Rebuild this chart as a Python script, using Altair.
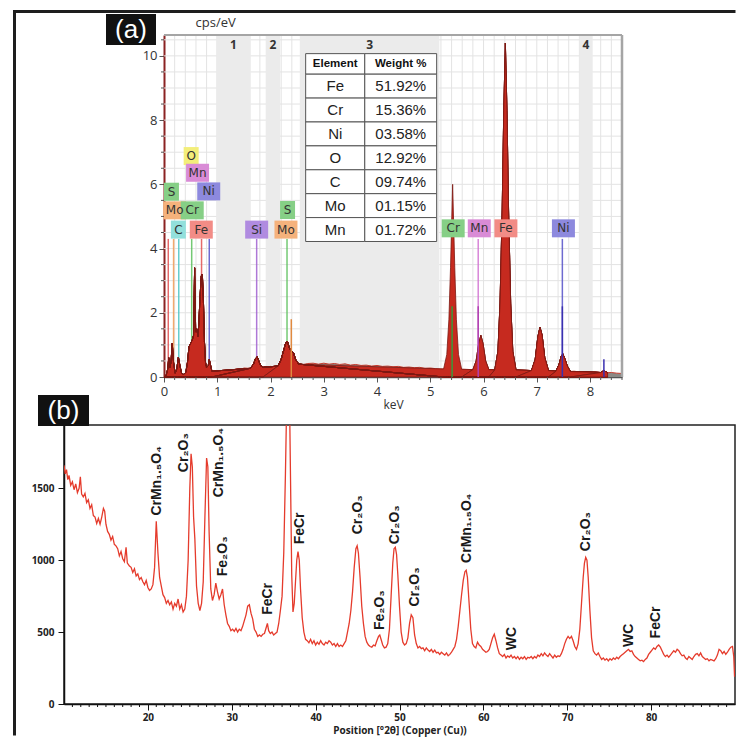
import altair as alt
import numpy as np
import pandas as pd

# ===================== (a) EDS spectrum =====================
low_energy = [(0.00, 0.00), (0.04, 0.05), (0.07, 0.25), (0.09, 0.60), (0.11, 0.30), (0.13, 0.45),
              (0.155, 1.05), (0.18, 0.45), (0.21, 0.12), (0.24, 0.25), (0.27, 0.62), (0.30, 0.35),
              (0.33, 0.12), (0.37, 0.08), (0.41, 0.15), (0.44, 0.45), (0.47, 0.95), (0.50, 1.05),
              (0.53, 1.15), (0.555, 1.30), (0.575, 3.40), (0.595, 1.40), (0.615, 1.50), (0.64, 1.25),
              (0.66, 1.90), (0.68, 2.60), (0.70, 3.15), (0.72, 3.20), (0.74, 2.40), (0.76, 1.10),
              (0.78, 0.45), (0.80, 0.30), (0.83, 0.35), (0.85, 0.55), (0.87, 0.40), (0.90, 0.18)]

continuum = [(0.90, 0.18), (1.00, 0.15), (1.05, 0.20), (1.10, 0.17), (1.20, 0.22), (1.25, 0.19),
             (1.30, 0.23), (1.40, 0.26), (1.45, 0.23), (1.50, 0.28), (1.60, 0.27), (1.70, 0.30),
             (1.80, 0.31), (1.90, 0.29), (2.00, 0.33), (2.10, 0.31), (2.20, 0.36), (2.30, 0.37),
             (2.40, 0.38), (2.50, 0.40), (2.60, 0.38), (2.70, 0.42), (2.80, 0.43), (2.90, 0.40),
             (3.00, 0.43), (3.10, 0.40), (3.20, 0.42), (3.30, 0.39), (3.40, 0.41), (3.50, 0.37),
             (3.60, 0.39), (3.70, 0.36), (3.80, 0.37), (3.90, 0.34), (4.00, 0.36), (4.10, 0.33),
             (4.20, 0.34), (4.30, 0.32), (4.40, 0.33), (4.50, 0.30), (4.60, 0.31), (4.70, 0.29),
             (4.80, 0.30), (4.90, 0.27), (5.00, 0.28), (5.10, 0.26), (5.20, 0.25), (5.40, 0.25),
             (5.60, 0.24), (5.80, 0.23), (6.00, 0.24), (6.20, 0.22), (6.60, 0.22), (6.80, 0.21),
             (6.90, 0.20), (7.20, 0.20), (7.30, 0.19), (7.40, 0.18), (7.60, 0.17), (7.70, 0.18),
             (7.80, 0.16), (7.90, 0.17), (8.00, 0.15), (8.10, 0.16), (8.20, 0.14), (8.30, 0.13),
             (8.40, 0.14), (8.50, 0.12), (8.60, 0.11)]

peak_si = [(1.62, 0.27), (1.68, 0.40), (1.72, 0.58), (1.75, 0.63), (1.78, 0.50), (1.82, 0.34), (1.86, 0.30)]
peak_s_mo = [(2.14, 0.34), (2.20, 0.55), (2.25, 0.85), (2.29, 1.08), (2.32, 1.10), (2.35, 0.92),
             (2.39, 0.80), (2.43, 0.76), (2.47, 0.55), (2.53, 0.40)]
peak_cr_ka = [(5.25, 0.25), (5.31, 0.70), (5.35, 1.80), (5.38, 3.40), (5.42, 6.00), (5.46, 3.40),
              (5.49, 1.80), (5.53, 0.70), (5.59, 0.24)]
peak_cr_kb = [(5.80, 0.23), (5.86, 0.50), (5.91, 1.05), (5.95, 1.30), (5.99, 1.05), (6.04, 0.50), (6.10, 0.23)]
peak_fe_ka = [(6.21, 0.22), (6.27, 0.80), (6.31, 2.30), (6.35, 5.20), (6.38, 8.30), (6.41, 10.40),
              (6.44, 8.30), (6.47, 5.20), (6.51, 2.30), (6.55, 0.80), (6.61, 0.22)]
peak_fe_kb = [(6.90, 0.20), (6.97, 0.55), (7.02, 1.25), (7.06, 1.55), (7.10, 1.30), (7.15, 0.60), (7.22, 0.20)]
peak_ni_ka = [(7.36, 0.18), (7.42, 0.40), (7.46, 0.65), (7.49, 0.72), (7.53, 0.55), (7.57, 0.35), (7.63, 0.17)]
peak_ni_kb = [(8.20, 0.14), (8.26, 0.20), (8.33, 0.13)]

label_text = ["O", "Mn", "S", "Ni", "Mo", "Cr", "C", "Fe", "Si", "S", "Mo", "Cr", "Mn", "Fe", "Ni"]
label_kev = [0.51, 0.63, 0.14, 0.84, 0.20, 0.53, 0.27, 0.70, 1.74, 2.32, 2.29, 5.43, 5.92, 6.42, 7.50]
label_cps = [6.88, 6.36, 5.77, 5.78, 5.19, 5.19, 4.59, 4.59, 4.59, 5.20, 4.59, 4.63, 4.63, 4.63, 4.63]

marker_elem = ["Fe", "Mo", "C", "Cr", "Fe", "Ni", "Si", "S", "Cr", "Mn", "Fe", "Ni"]
marker_kev = [0.08, 0.18, 0.277, 0.52, 0.705, 0.85, 1.74, 2.31, 5.41, 5.90, 6.40, 7.48]
marker_top = [4.3, 4.3, 4.3, 4.3, 4.3, 4.3, 4.3, 4.3, 4.3, 4.3, 4.3, 4.3]

marker2_elem = ["Cr", "Mn", "Ni", "Ni", "Mo"]
marker2_kev = [5.41, 5.90, 7.48, 8.26, 2.39]
marker2_top = [2.2, 2.2, 2.2, 0.55, 1.8]

roi_name = ["1", "2", "3", "4"]
roi_start = [0.98, 1.91, 2.55, 7.80]
roi_end = [1.63, 2.18, 5.17, 8.05]

table_element = ["Fe", "Cr", "Ni", "O", "C", "Mo", "Mn"]
table_weight = ["51.92%", "15.36%", "03.58%", "12.92%", "09.74%", "01.15%", "01.72%"]

# ===================== (b) XRD pattern =====================
xrd_pattern = [
    (10.0, 1660), (10.15, 1600), (10.3, 1630), (10.45, 1560), (10.6, 1590), (10.8, 1520), (11.0, 1545), (11.2, 1490), (11.4, 1530), (11.6, 1470),
    (11.8, 1500), (11.95, 1580), (12.1, 1460), (12.3, 1440), (12.5, 1465), (12.7, 1400), (12.9, 1420), (13.1, 1360), (13.3, 1385), (13.5, 1310),
    (13.7, 1300), (13.9, 1255), (14.1, 1290), (14.3, 1250), (14.5, 1300), (14.7, 1360), (14.85, 1340), (15.0, 1250), (15.2, 1200), (15.4, 1180),
    (15.6, 1140), (15.8, 1165), (16.0, 1110), (16.2, 1100), (16.4, 1080), (16.6, 1030), (16.8, 1060), (17.0, 1010), (17.2, 990), (17.4, 1090),
    (17.55, 980), (17.8, 960), (18.0, 950), (18.2, 915), (18.4, 940), (18.6, 890), (18.8, 905), (19.0, 865), (19.2, 880), (19.4, 850),
    (19.6, 830), (19.8, 860), (20.0, 810), (20.2, 790), (20.4, 800), (20.6, 830), (20.8, 950), (21.0, 1270), (21.2, 1050), (21.4, 880),
    (21.6, 820), (21.8, 760), (22.0, 740), (22.2, 700), (22.4, 720), (22.6, 690), (22.8, 710), (23.0, 660), (23.2, 700), (23.4, 680),
    (23.6, 730), (23.8, 660), (24.0, 690), (24.2, 640), (24.4, 660), (24.6, 750), (24.8, 1000), (25.0, 1500), (25.15, 1740), (25.3, 1650),
    (25.45, 1300), (25.6, 1150), (25.8, 820), (26.0, 700), (26.2, 650), (26.4, 700), (26.6, 850), (26.8, 1300), (27.0, 1710), (27.15, 1650),
    (27.3, 1200), (27.5, 800), (27.7, 720), (27.9, 760), (28.1, 840), (28.3, 780), (28.5, 730), (28.7, 760), (28.9, 800), (29.1, 690),
    (29.3, 620), (29.5, 560), (29.7, 540), (29.9, 510), (30.1, 520), (30.3, 505), (30.5, 525), (30.7, 500), (30.9, 520), (31.1, 510),
    (31.3, 540), (31.5, 580), (31.7, 620), (31.9, 680), (32.1, 690), (32.3, 630), (32.5, 590), (32.7, 520), (32.9, 500), (33.1, 470),
    (33.3, 480), (33.5, 470), (33.7, 485), (33.9, 490), (34.1, 530), (34.25, 560), (34.4, 510), (34.6, 490), (34.8, 500), (35.0, 480),
    (35.2, 490), (35.4, 500), (35.6, 560), (35.8, 650), (36.0, 750), (36.2, 1050), (36.4, 1600), (36.55, 2100), (36.7, 2600), (36.85, 2300),
    (37.0, 1600), (37.15, 900), (37.3, 640), (37.45, 700), (37.6, 850), (37.75, 1000), (37.9, 1060), (38.05, 1000), (38.2, 800), (38.4, 600),
    (38.6, 500), (38.8, 450), (39.0, 440), (39.2, 425), (39.4, 450), (39.6, 420), (39.8, 440), (40.0, 410), (40.2, 430), (40.4, 415),
    (40.6, 440), (40.8, 420), (41.0, 410), (41.2, 430), (41.4, 420), (41.6, 440), (41.8, 430), (42.0, 410), (42.2, 420), (42.4, 400),
    (42.6, 420), (42.8, 400), (43.0, 410), (43.2, 400), (43.4, 420), (43.6, 440), (43.8, 500), (44.0, 560), (44.2, 650), (44.4, 780),
    (44.6, 950), (44.8, 1080), (44.95, 1100), (45.1, 1050), (45.3, 880), (45.5, 680), (45.7, 560), (45.9, 470), (46.1, 430), (46.3, 410),
    (46.5, 400), (46.7, 395), (46.9, 410), (47.1, 405), (47.3, 440), (47.5, 470), (47.65, 480), (47.8, 450), (48.0, 410), (48.2, 390),
    (48.4, 395), (48.6, 420), (48.8, 520), (49.0, 750), (49.2, 980), (49.35, 1080), (49.5, 1090), (49.65, 1040), (49.8, 900), (50.0, 680),
    (50.2, 500), (50.4, 430), (50.6, 410), (50.8, 420), (51.0, 460), (51.2, 560), (51.4, 620), (51.6, 600), (51.8, 480), (52.0, 420),
    (52.2, 390), (52.4, 400), (52.6, 385), (52.8, 390), (53.0, 370), (53.2, 390), (53.4, 375), (53.6, 365), (53.8, 380), (54.0, 360),
    (54.2, 375), (54.4, 355), (54.6, 360), (54.8, 345), (55.0, 360), (55.2, 350), (55.4, 340), (55.6, 355), (55.8, 335), (56.0, 345),
    (56.2, 360), (56.4, 380), (56.6, 400), (56.8, 450), (57.0, 540), (57.2, 650), (57.4, 760), (57.6, 860), (57.8, 920), (57.95, 930),
    (58.1, 880), (58.3, 700), (58.5, 520), (58.7, 420), (58.9, 400), (59.1, 390), (59.3, 430), (59.5, 410), (59.7, 400), (59.9, 380),
    (60.1, 370), (60.3, 360), (60.5, 365), (60.7, 380), (60.9, 420), (61.1, 460), (61.3, 485), (61.5, 440), (61.7, 390), (61.9, 350),
    (62.1, 340), (62.3, 330), (62.5, 345), (62.7, 320), (62.9, 335), (63.1, 325), (63.3, 340), (63.5, 320), (63.7, 330), (63.9, 315),
    (64.1, 330), (64.3, 310), (64.5, 325), (64.7, 315), (64.9, 330), (65.1, 310), (65.3, 325), (65.5, 320), (65.7, 330), (65.9, 315),
    (66.1, 330), (66.3, 320), (66.5, 340), (66.7, 330), (66.9, 350), (67.1, 335), (67.3, 355), (67.5, 340), (67.7, 330), (67.9, 350),
    (68.1, 335), (68.3, 320), (68.5, 340), (68.7, 325), (68.9, 335), (69.1, 330), (69.3, 350), (69.5, 380), (69.7, 420), (69.9, 450),
    (70.1, 470), (70.3, 455), (70.5, 470), (70.7, 440), (70.9, 400), (71.1, 380), (71.3, 420), (71.5, 520), (71.7, 700), (71.9, 880),
    (72.05, 980), (72.2, 1020), (72.35, 1000), (72.5, 880), (72.7, 650), (72.9, 460), (73.1, 370), (73.3, 350), (73.5, 340), (73.7, 355),
    (73.9, 330), (74.1, 310), (74.3, 320), (74.5, 305), (74.7, 315), (74.9, 300), (75.1, 315), (75.3, 305), (75.5, 320), (75.7, 310),
    (75.9, 325), (76.1, 315), (76.3, 330), (76.5, 340), (76.7, 350), (76.9, 360), (77.1, 370), (77.3, 380), (77.5, 365), (77.7, 370),
    (77.9, 345), (78.1, 330), (78.3, 320), (78.5, 310), (78.7, 300), (78.9, 305), (79.1, 295), (79.3, 310), (79.5, 320), (79.7, 345),
    (79.9, 360), (80.1, 375), (80.3, 390), (80.5, 380), (80.7, 400), (80.9, 410), (81.1, 395), (81.3, 370), (81.5, 345), (81.7, 330),
    (81.9, 340), (82.1, 325), (82.3, 340), (82.5, 355), (82.7, 370), (82.9, 360), (83.1, 380), (83.3, 370), (83.5, 350), (83.7, 335),
    (83.9, 340), (84.1, 320), (84.3, 310), (84.5, 330), (84.7, 320), (84.9, 310), (85.1, 330), (85.3, 345), (85.5, 350), (85.7, 335),
    (85.9, 355), (86.1, 330), (86.3, 320), (86.5, 310), (86.7, 315), (86.9, 300), (87.1, 310), (87.3, 305), (87.5, 300), (87.7, 315),
    (87.9, 340), (88.1, 380), (88.3, 370), (88.5, 350), (88.7, 365), (88.9, 345), (89.1, 360), (89.3, 380), (89.5, 395), (89.7, 400),
    (89.85, 330), (89.95, 190)]

phase_label = ["CrMn₁.₅O₄", "Cr₂O₃", "CrMn₁.₅O₄", "Fe₂O₃", "FeCr", "FeCr", "Cr₂O₃", "Fe₂O₃",
               "Cr₂O₃", "Cr₂O₃", "CrMn₁.₅O₄", "WC", "Cr₂O₃", "WC", "FeCr"]
phase_2theta = [21.1, 24.3, 28.5, 29.0, 34.3, 38.1, 45.1, 47.7, 49.5, 51.8, 58.0, 63.4, 72.2, 77.4, 80.6]
phase_counts = [1310, 1612, 1437, 888, 620, 1110, 1180, 514, 1110, 678, 981, 374, 1063, 397, 456]

# ===================== styles =====================
box_colors = {"O": "#f3ee7a", "Mn": "#d98bd6", "S": "#86cf86", "Ni": "#8d89de", "Mo": "#f5b27c",
              "Cr": "#86cf86", "C": "#92e0dc", "Fe": "#f28c86", "Si": "#b08be0"}
line_colors = {"O": "#e0d040", "Mn": "#d070d0", "S": "#5cbf5c", "Ni": "#5550c8", "Mo": "#f09a55",
               "Cr": "#5cbf5c", "C": "#4cc4c4", "Fe": "#e05050", "Si": "#a060d0"}
dark_colors = {"Cr": "#3a9a3a", "Mn": "#b040b0", "Ni": "#3a30b0", "Mo": "#e08a40"}

W1, H1 = 558, 342          # top panel (plot occupies x 100..558)
X0 = 100
W2, H2 = 671, 279          # bottom panel

one = pd.DataFrame({"z": [0]})

xs_a = alt.Scale(domain=[0, 8.6], range=[X0, W1], nice=False, zero=False)
ys_a = alt.Scale(domain=[0, 10.65], nice=False, zero=False)
axis_xa = alt.Axis(values=list(range(9)), tickSize=5, tickColor="#555", domainColor="#555",
                   domainWidth=1.5, labelFontSize=13, labelFont="Open Sans", labelColor="#333",
                   labelPadding=3, labelFlush=False, grid=False, title="keV", titleFontSize=12,
                   titleFont="Open Sans", titleFontWeight="normal", titleColor="#333", titlePadding=1)
axis_ya = alt.Axis(values=[0, 2, 4, 6, 8, 10], offset=-X0, tickSize=5, tickColor="#555",
                   domainColor="#8b2323", domainWidth=2, labelFontSize=13, labelFont="Open Sans",
                   labelColor="#333", labelPadding=2, labelFlush=False, grid=False,
                   title="cps/eV", titleAngle=0, titleX=31, titleY=-6, titleAlign="left",
                   titleBaseline="bottom", titleFontSize=13, titleFont="Open Sans",
                   titleFontWeight="normal", titleColor="#333")
XA = lambda f: alt.X(f, type="quantitative", scale=xs_a, axis=axis_xa)
YA = lambda f: alt.Y(f, type="quantitative", scale=ys_a, axis=axis_ya)


def pix_rule(x, x2, y, y2, color, width, cap="butt"):
    return alt.Chart(one).mark_rule(color=color, strokeWidth=width, strokeCap=cap).encode(
        x=alt.value(x), x2=alt.value(x2), y=alt.value(y), y2=alt.value(y2))


def pts(seq, name):
    return pd.DataFrame({"kev": [p[0] for p in seq], "cps": [p[1] for p in seq], "g": name})


# ---- grid
df_gx = pd.DataFrame({"k": np.round(np.arange(0.2, 8.61, 0.2), 2)})
df_gy = pd.DataFrame({"c": np.round(np.arange(0.5, 10.51, 0.5), 2)})
grid_v = alt.Chart(df_gx).mark_rule(color="#e3e3e3", strokeWidth=1).encode(x=XA("k"))
grid_h = alt.Chart(df_gy).mark_rule(color="#e3e3e3", strokeWidth=1).encode(
    y=YA("c"), x=alt.value(X0), x2=alt.value(W1))

# ---- ROI bands
df_roi = pd.DataFrame({"b0": roi_start, "b1": roi_end, "lab": roi_name})
df_roi["mid"] = (df_roi["b0"] + df_roi["b1"]) / 2
bands = alt.Chart(df_roi).mark_rect(color="#ebebeb").encode(
    x=XA("b0"), x2="b1", y=alt.value(0), y2=alt.value(H1))
band_txt = alt.Chart(df_roi).mark_text(fontSize=12, font="Open Sans", fontWeight="bold", color="#333").encode(
    x=XA("mid"), y=alt.value(10), text="lab:N")

# ---- marker lines
df_mk = pd.DataFrame({"kev": marker_kev, "top": marker_top, "el": marker_elem})
df_mk["col"] = df_mk["el"].map(line_colors)
df_mk["zero"] = 0.0
markers = alt.Chart(df_mk).mark_rule(strokeWidth=1.5, opacity=0.85).encode(
    x=XA("kev"), y=YA("zero"), y2="top", color=alt.Color("col:N", scale=None))
df_mk2 = pd.DataFrame({"kev": marker2_kev, "top": marker2_top, "el": marker2_elem})
df_mk2["col"] = df_mk2["el"].map(dark_colors)
df_mk2["zero"] = 0.0
markers2 = alt.Chart(df_mk2).mark_rule(strokeWidth=1.5).encode(
    x=XA("kev"), y=YA("zero"), y2="top", color=alt.Color("col:N", scale=None))

# ---- spectrum
df_cont = pts(continuum, "cont")
cont_area = alt.Chart(df_cont).mark_area(color="#8c8985").encode(x=XA("kev"), y=YA("cps"))
cont_line = alt.Chart(df_cont).mark_line(color="#c83a2c", strokeWidth=1).encode(x=XA("kev"), y=YA("cps"))

df_peaks = pd.concat([pts(low_energy, "low"), pts(peak_si, "si"), pts(peak_s_mo, "smo"),
                      pts(peak_cr_ka, "crka"), pts(peak_cr_kb, "crkb"), pts(peak_fe_ka, "feka"),
                      pts(peak_fe_kb, "fekb"), pts(peak_ni_ka, "nika"), pts(peak_ni_kb, "nikb")],
                     ignore_index=True)
peaks = alt.Chart(df_peaks).mark_area(fill="#c62a1f", stroke="#7c1812", strokeWidth=0.8).encode(
    x=XA("kev"), y=YA("cps"), detail="g:N")

# ---- table
T_X0, T_XM, T_X1 = 2.66, 3.77, 5.12
T_Y0, T_YH, T_Y1 = 10.07, 9.43, 4.22
rh = (T_YH - T_Y1) / len(table_element)
cells, texts = [], []
cells += [dict(x0=T_X0, x1=T_XM, y0=T_YH, y1=T_Y0), dict(x0=T_XM, x1=T_X1, y0=T_YH, y1=T_Y0)]
hdr = pd.DataFrame({"x": [(T_X0 + T_XM) / 2, (T_XM + T_X1) / 2], "y": [(T_Y0 + T_YH) / 2] * 2,
                    "t": ["Element", "Weight %"]})
for i, (el, wt) in enumerate(zip(table_element, table_weight)):
    top_ = T_YH - i * rh
    bot_ = top_ - rh
    cells += [dict(x0=T_X0, x1=T_XM, y0=bot_, y1=top_), dict(x0=T_XM, x1=T_X1, y0=bot_, y1=top_)]
    texts += [dict(x=(T_X0 + T_XM) / 2, y=(top_ + bot_) / 2, t=el),
              dict(x=(T_XM + T_X1) / 2, y=(top_ + bot_) / 2, t=wt)]
df_cells = pd.DataFrame(cells)
df_ttext = pd.DataFrame(texts)
tbl_cells = alt.Chart(df_cells).mark_rect(fill="white", stroke="#555", strokeWidth=1).encode(
    x=XA("x0"), x2="x1", y=YA("y0"), y2="y1")
tbl_hdr = alt.Chart(hdr).mark_text(font="Liberation Sans", fontWeight="bold", fontSize=11.5, color="#111").encode(
    x=XA("x"), y=YA("y"), text="t:N")
tbl_body = alt.Chart(df_ttext).mark_text(font="Liberation Sans", fontSize=15, color="#222").encode(
    x=XA("x"), y=YA("y"), text="t:N")

# ---- element label boxes
df_lab = pd.DataFrame({"t": label_text, "kev": label_kev, "cps": label_cps})
df_lab["col"] = df_lab["t"].map(box_colors)
df_lab["n"] = df_lab["t"].str.len()
box1 = alt.Chart(df_lab).transform_filter("datum.n == 1").mark_rect(width=15, height=18).encode(
    x=XA("kev"), y=YA("cps"), color=alt.Color("col:N", scale=None))
box2 = alt.Chart(df_lab).transform_filter("datum.n == 2").mark_rect(width=23, height=18).encode(
    x=XA("kev"), y=YA("cps"), color=alt.Color("col:N", scale=None))
box_txt = alt.Chart(df_lab).mark_text(font="DejaVu Sans", fontSize=12, color="#333").encode(
    x=XA("kev"), y=YA("cps"), text="t:N")

# ---- minor ticks
df_mx = pd.DataFrame({"k": [v for v in np.round(np.arange(0.2, 8.61, 0.2), 2) if abs(v - round(v)) > 1e-6]})
minor_x = alt.Chart(df_mx).mark_rule(color="#555", strokeWidth=1).encode(
    x=XA("k"), y=alt.value(H1), y2=alt.value(H1 + 3))
df_my = pd.DataFrame({"c": [v for v in np.arange(0.5, 10.51, 0.5) if v % 2 != 0]})
minor_y = alt.Chart(df_my).mark_rule(color="#555", strokeWidth=1).encode(
    y=YA("c"), x=alt.value(X0 - 3), x2=alt.value(X0))

# ---- borders / decorations (pixel positions)
border_top = pix_rule(X0, W1, 0, 0, "#a5a5a5", 2)
border_right = pix_rule(W1, W1, 0, H1, "#a5a5a5", 2.5)
frame_left = pix_rule(-49.5, -49.5, -23.5, 699, "#1e1e1e", 3, "square")
frame_top = pix_rule(-49.5, 670, -23.5, -23.5, "#1e1e1e", 3, "square")
a_box = alt.Chart(one).mark_rect(color="#111").encode(
    x=alt.value(42), x2=alt.value(92), y=alt.value(-21), y2=alt.value(10))
a_txt = alt.Chart(one).mark_text(text="(a)", font="Liberation Sans", fontSize=26, color="white").encode(
    x=alt.value(67), y=alt.value(-5))

top = alt.layer(
    grid_v, grid_h, bands, band_txt, markers, cont_area, cont_line, peaks, markers2,
    tbl_cells, tbl_hdr, tbl_body, box1, box2, box_txt, minor_x, minor_y,
    border_top, border_right, a_box, a_txt, frame_left, frame_top
).properties(width=W1, height=H1, view=alt.ViewBackground(stroke="transparent"))

# ===================== bottom panel =====================
xs_b = alt.Scale(domain=[10, 90], nice=False, zero=False)
ys_b = alt.Scale(domain=[0, 1940], nice=False, zero=False)
axis_xb = alt.Axis(values=[20, 30, 40, 50, 60, 70, 80], format="d", tickSize=6, tickColor="#111",
                   domainColor="#111", domainWidth=1.5, labelFont="Open Sans", labelFontWeight="bold",
                   labelFontSize=10, labelColor="#222", labelPadding=2, labelFlush=False, grid=False,
                   title="Position [°2θ] (Copper (Cu))", titleFont="Open Sans", titleFontSize=10,
                   titleFontWeight="bold", titleColor="#222", titlePadding=3)
axis_yb = alt.Axis(values=[0, 500, 1000, 1500], format="d", tickSize=6, tickColor="#111", domainColor="#111",
                   domainWidth=1.5, labelFont="Open Sans", labelFontWeight="bold", labelFontSize=10,
                   labelColor="#222", labelPadding=4, labelFlush=False, grid=False, title=None)
XB = lambda f: alt.X(f, type="quantitative", scale=xs_b, axis=axis_xb)
YB = lambda f: alt.Y(f, type="quantitative", scale=ys_b, axis=axis_yb)

df_xrd = pd.DataFrame({"t": [p[0] for p in xrd_pattern], "c": [p[1] for p in xrd_pattern]})
xrd_line = alt.Chart(df_xrd).mark_line(color="#e53b2c", strokeWidth=1.3, clip=True).encode(
    x=XB("t"), y=YB("c"))
df_ph = pd.DataFrame({"t": phase_2theta, "c": phase_counts, "lab": phase_label})
ph_txt = alt.Chart(df_ph).mark_text(angle=270, align="left", baseline="middle", font="Liberation Sans",
                                    fontWeight="bold", fontSize=14, color="#1a1a1a").encode(
    x=XB("t"), y=YB("c"), text="lab:N")
df_mb = pd.DataFrame({"t": [v for v in range(11, 90) if v % 10 != 0]})
minor_b = alt.Chart(df_mb).mark_rule(color="#111", strokeWidth=1).encode(
    x=XB("t"), y=alt.value(H2), y2=alt.value(H2 + 3))
b_box = alt.Chart(one).mark_rect(color="#111").encode(
    x=alt.value(-26), x2=alt.value(25), y=alt.value(-30), y2=alt.value(1))
b_txt = alt.Chart(one).mark_text(text="(b)", font="Liberation Sans", fontSize=26, color="white").encode(
    x=alt.value(-0.5), y=alt.value(-14))

bottom = alt.layer(xrd_line, ph_txt, minor_b, b_box, b_txt).properties(
    width=W2, height=H2, view=alt.ViewBackground(stroke="#222", strokeWidth=1.5))

chart = alt.vconcat(top, bottom, spacing=48, bounds="flush").properties(
    padding={"left": 3, "top": 0, "right": 0, "bottom": 0}, background="white")

chart.save("out.html", embed_options={"renderer": "svg", "actions": False})
